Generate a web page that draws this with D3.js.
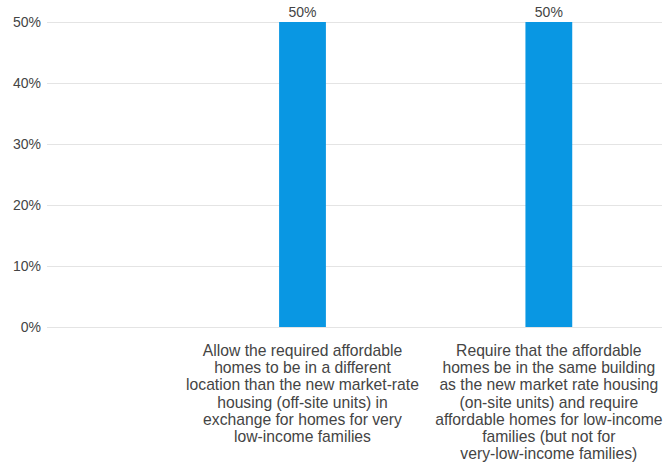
<!DOCTYPE html>
<html>
<head>
<meta charset="utf-8">
<script src="https://cdn.jsdelivr.net/npm/d3@7"></script>
<style>
  html, body { margin: 0; padding: 0; background: #fff; }
  svg { display: block; font-family: "Liberation Sans", Arial, sans-serif; }
</style>
</head>
<body>
<svg id="chart" width="666" height="465"></svg>
<script>
// Survey options (leading blank slot keeps the left gutter open); "\n" marks line breaks
const categories = [
  "",
  "Allow the required affordable\nhomes to be in a different\nlocation than the new market-rate\nhousing (off-site units) in\nexchange for homes for very\nlow-income families",
  "Require that the affordable\nhomes be in the same building\nas the new market rate housing\n(on-site units) and require\naffordable homes for low-income\nfamilies (but not for\nvery-low-income families)"
];
const values = [null, 50, 50];
const yTicks = [0, 10, 20, 30, 40, 50];

const svg = d3.select("#chart");
const plotLeft = 47, plotRight = 662, plotTop = 22, plotBottom = 327;

const x = d3.scaleBand()
  .domain(categories.map((d, i) => i))
  .range([-67, 672])
  .paddingInner(0.81)
  .paddingOuter(0.405);

const y = d3.scaleLinear().domain([0, 50]).range([plotBottom, plotTop]);

// Horizontal gridlines
svg.append("g")
  .selectAll("line")
  .data(yTicks)
  .join("line")
  .attr("x1", plotLeft).attr("x2", plotRight)
  .attr("y1", d => Math.round(y(d)) + 0.5).attr("y2", d => Math.round(y(d)) + 0.5)
  .attr("stroke", "#e4e4e4").attr("stroke-width", 1);

// Y axis labels
const yAxis = d3.axisLeft(y).tickValues(yTicks).tickFormat(d => d + "%").tickSize(0).tickPadding(0);
const yg = svg.append("g").attr("transform", `translate(41,0)`).call(yAxis);
yg.select(".domain").remove();
yg.selectAll("text").attr("font-size", 14).attr("fill", "#444").attr("font-family", "Liberation Sans, Arial, sans-serif");

// Bars
const barData = values.map((v, i) => ({ i, v })).filter(d => d.v != null);
svg.append("g")
  .selectAll("rect")
  .data(barData)
  .join("rect")
  .attr("x", d => x(d.i))
  .attr("width", x.bandwidth())
  .attr("y", d => y(d.v))
  .attr("height", d => y(0) - y(d.v))
  .attr("fill", "#0997e3");

// Value labels
svg.append("g")
  .selectAll("text")
  .data(barData)
  .join("text")
  .attr("x", d => x(d.i) + x.bandwidth() / 2)
  .attr("y", d => y(d.v) - 5)
  .attr("text-anchor", "middle")
  .attr("font-size", 14)
  .attr("fill", "#444")
  .text(d => d.v + "%");

// Category labels under each bar
const labelSize = 15.7, lineH = 17.2;
const lg = svg.append("g");
categories.forEach((c, i) => {
  if (!c) return;
  const cx = x(i) + x.bandwidth() / 2;
  const t = lg.append("text")
    .attr("x", cx)
    .attr("y", 356)
    .attr("text-anchor", "middle")
    .attr("font-size", labelSize)
    .attr("fill", "#444");
  c.split("\n").forEach((l, k) => {
    t.append("tspan").attr("x", cx).attr("dy", k === 0 ? 0 : lineH).text(l);
  });
});
</script>
</body>
</html>
